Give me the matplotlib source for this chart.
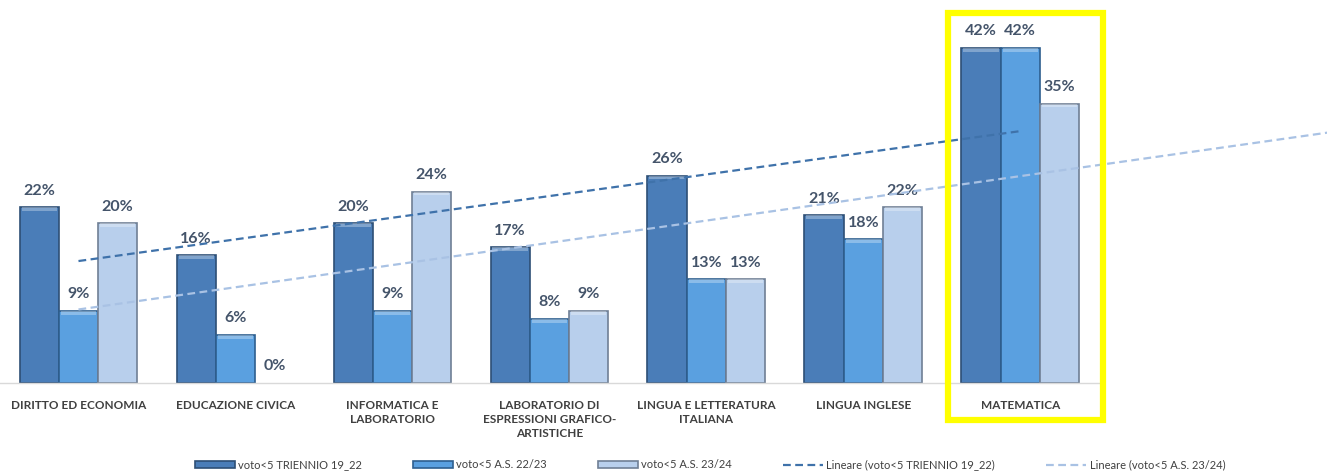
import numpy as np
import matplotlib.pyplot as plt
from matplotlib.patches import Rectangle

categories = ["DIRITTO ED ECONOMIA", "EDUCAZIONE CIVICA", "INFORMATICA E\nLABORATORIO",
              "LABORATORIO DI\nESPRESSIONI GRAFICO-\nARTISTICHE", "LINGUA E LETTERATURA\nITALIANA",
              "LINGUA INGLESE", "MATEMATICA"]
triennio_19_22 = [22, 16, 20, 17, 26, 21, 42]
as_22_23 = [9, 6, 9, 8, 13, 18, 42]
as_23_24 = [20, 0, 24, 9, 13, 22, 35]
series_names = ["voto<5 TRIENNIO 19_22", "voto<5 A.S. 22/23", "voto<5 A.S. 23/24"]

colors = ["#4A7DB8", "#5AA0E0", "#B8CFEC"]
edges = ["#2E4F75", "#2E5F8F", "#6F7F95"]
label_color = "#44546A"

plt.rcParams['font.family'] = ['Lato', 'DejaVu Sans']

fig = plt.figure(figsize=(13.27, 4.73), dpi=100)
ax = fig.add_axes([0.0, 0.1903, 0.828, 0.759])

x = np.arange(1, len(categories) + 1)
w = 0.25
handles = []
for i, vals in enumerate([triennio_19_22, as_22_23, as_23_24]):
    pos = x + (i - 1) * w
    lws = [1.2 if v > 0 else 0 for v in vals]
    b = ax.bar(pos, vals, width=w, color=colors[i], edgecolor=edges[i], linewidth=lws,
               label=series_names[i], zorder=2)
    handles.append(b)
    # light bevel on top
    for px, v in zip(pos, vals):
        if v > 0:
            ax.bar(px, 0.45, bottom=v - 0.45, width=w * 0.9, color="white", alpha=0.3,
                   linewidth=0, zorder=3)
    for px, v in zip(pos, vals):
        ax.annotate(f"{v}%", (px, v), xytext=(0, 7), textcoords="offset points",
                    ha="center", va="bottom", fontsize=11.5, fontweight="bold",
                    color=label_color)

# linear trendlines
fit1 = np.polyfit(x, triennio_19_22, 1)
xt1 = np.array([x[0], x[-1]])
l1, = ax.plot(xt1, np.polyval(fit1, xt1), linestyle=(0, (3.5, 2)), color="#3F72AA",
              linewidth=1.6, zorder=4, label="Lineare (voto<5 TRIENNIO 19_22)")
fit3 = np.polyfit(x, as_23_24, 1)
xt3 = np.array([x[0], x[-1] + 1.96])
l3, = ax.plot(xt3, np.polyval(fit3, xt3), linestyle=(0, (3.5, 2)), color="#A9C2E4",
              linewidth=1.6, zorder=4, clip_on=False, label="Lineare (voto<5 A.S. 23/24)")

ax.set_xlim(0.5, len(categories) + 0.5)
ax.set_ylim(0, 45)
ax.set_yticks([])
ax.set_xticks(x)
ax.set_xticklabels(categories, fontsize=8.5, fontweight="bold", color="#404040",
                   linespacing=1.35)
ax.tick_params(axis="x", length=0, pad=12)
for s in ["top", "right", "left"]:
    ax.spines[s].set_visible(False)
ax.spines["bottom"].set_color("#D9D9D9")
ax.spines["bottom"].set_linewidth(1)

fig.legend(handles=handles + [l1, l3], loc="center", bbox_to_anchor=(0.535, 0.017),
           ncol=5, frameon=False, fontsize=8, handlelength=3.6, handleheight=0.6,
           columnspacing=4.6, handletextpad=0.3, labelcolor="#404040")

# highlight box around MATEMATICA
fig.patches.append(Rectangle((948 / 1327, 1 - 420 / 473), 155 / 1327, 407 / 473,
                             transform=fig.transFigure, fill=False, edgecolor="#FFFF00",
                             linewidth=4.5, zorder=10))

fig.savefig("out.png", dpi=100)
